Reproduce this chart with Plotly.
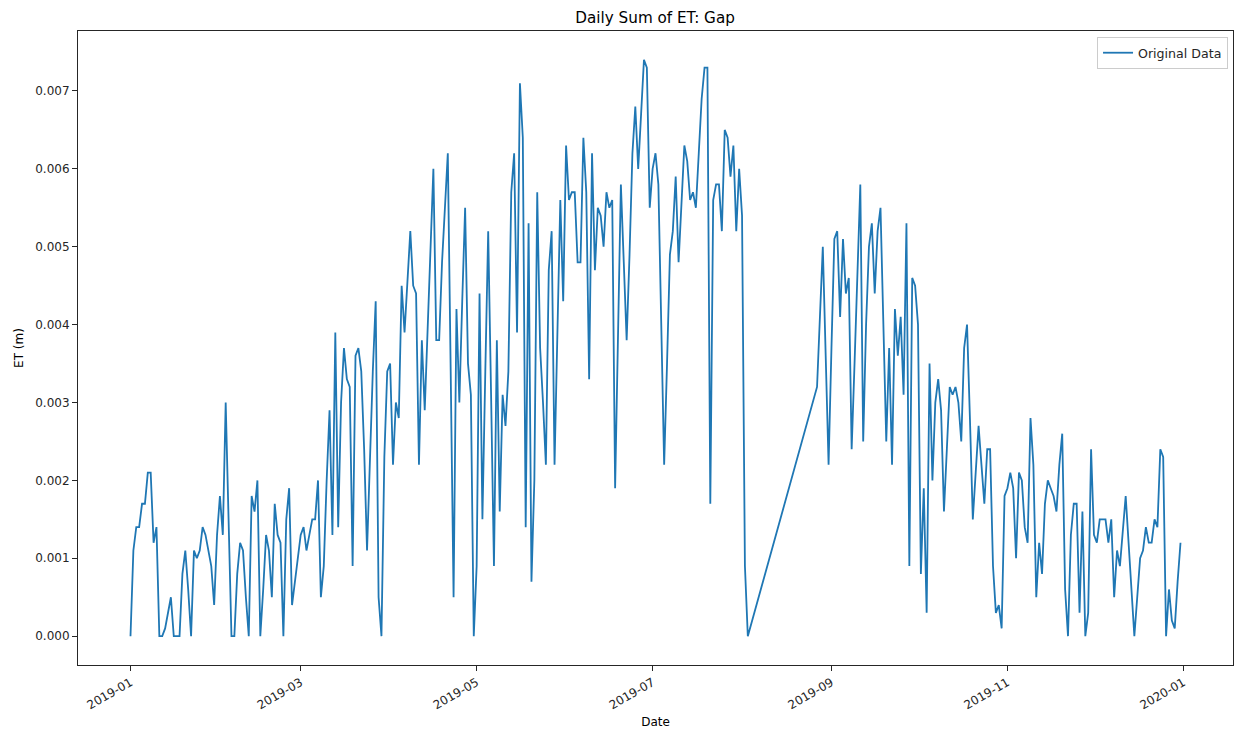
import plotly.graph_objects as go
import pandas as pd

# Daily ET values (m), grouped by month
jan_2019 = [0.0000, 0.0011, 0.0014, 0.0014, 0.0017, 0.0017, 0.0021, 0.0021, 0.0012, 0.0014,
            0.0000, 0.0000, 0.0001, 0.0003, 0.0005, 0.0000, 0.0000, 0.0000, 0.0008, 0.0011,
            0.0006, 0.0000, 0.0011, 0.0010, 0.0011, 0.0014, 0.0013, 0.0011, 0.0009, 0.0004,
            0.0013]
feb_2019 = [0.0018, 0.0013, 0.0030, 0.0015, 0.0000, 0.0000, 0.0008, 0.0012, 0.0011, 0.0005,
            0.0000, 0.0018, 0.0016, 0.0020, 0.0000, 0.0006, 0.0013, 0.0011, 0.0005, 0.0017,
            0.0013, 0.0012, 0.0000, 0.0015, 0.0019, 0.0004, 0.0007, 0.0010]
mar_2019 = [0.0013, 0.0014, 0.0011, 0.0013, 0.0015, 0.0015, 0.0020, 0.0005, 0.0009, 0.0020,
            0.0029, 0.0013, 0.0039, 0.0014, 0.0030, 0.0037, 0.0033, 0.0032, 0.0009, 0.0036,
            0.0037, 0.0034, 0.0024, 0.0011, 0.0024, 0.0034, 0.0043, 0.0005, 0.0000, 0.0023,
            0.0034]
apr_2019 = [0.0035, 0.0022, 0.0030, 0.0028, 0.0045, 0.0039, 0.0046, 0.0052, 0.0045, 0.0044,
            0.0022, 0.0038, 0.0029, 0.0040, 0.0050, 0.0060, 0.0038, 0.0038, 0.0048, 0.0055,
            0.0062, 0.0034, 0.0005, 0.0042, 0.0030, 0.0043, 0.0055, 0.0035, 0.0031, 0.0000]
may_2019 = [0.0009, 0.0044, 0.0015, 0.0034, 0.0052, 0.0031, 0.0009, 0.0038, 0.0016, 0.0031,
            0.0027, 0.0034, 0.0057, 0.0062, 0.0039, 0.0071, 0.0064, 0.0014, 0.0053, 0.0007,
            0.0020, 0.0057, 0.0037, 0.0030, 0.0022, 0.0047, 0.0052, 0.0022, 0.0040, 0.0056,
            0.0043]
jun_2019 = [0.0063, 0.0056, 0.0057, 0.0057, 0.0048, 0.0048, 0.0064, 0.0057, 0.0033, 0.0062,
            0.0047, 0.0055, 0.0054, 0.0050, 0.0057, 0.0055, 0.0056, 0.0019, 0.0038, 0.0058,
            0.0048, 0.0038, 0.0049, 0.0062, 0.0068, 0.0060, 0.0067, 0.0074, 0.0073, 0.0055]
jul_2019 = [0.0060, 0.0062, 0.0058, 0.0038, 0.0022, 0.0035, 0.0049, 0.0052, 0.0059, 0.0048,
            0.0055, 0.0063, 0.0061, 0.0056, 0.0057, 0.0055, 0.0062, 0.0069, 0.0073, 0.0073,
            0.0017, 0.0056, 0.0058, 0.0058, 0.0052, 0.0065, 0.0064, 0.0059, 0.0063, 0.0052,
            0.0060]
aug_2019_early = [0.0054, 0.0009, 0.0000]
aug_2019_late = [0.0032, 0.0041, 0.0050, 0.0036, 0.0022]
sep_2019 = [0.0037, 0.0051, 0.0052, 0.0041, 0.0051, 0.0044, 0.0046, 0.0024, 0.0035, 0.0047,
            0.0058, 0.0025, 0.0040, 0.0050, 0.0053, 0.0044, 0.0052, 0.0055, 0.0040, 0.0025,
            0.0037, 0.0022, 0.0042, 0.0036, 0.0041, 0.0031, 0.0053, 0.0009, 0.0046, 0.0045]
oct_2019 = [0.0040, 0.0008, 0.0019, 0.0003, 0.0035, 0.0020, 0.0030, 0.0033, 0.0029, 0.0016,
            0.0024, 0.0032, 0.0031, 0.0032, 0.0030, 0.0025, 0.0037, 0.0040, 0.0028, 0.0015,
            0.0021, 0.0027, 0.0022, 0.0017, 0.0024, 0.0024, 0.0009, 0.0003, 0.0004, 0.0001,
            0.0018]
nov_2019 = [0.0019, 0.0021, 0.0019, 0.0010, 0.0021, 0.0020, 0.0014, 0.0012, 0.0028, 0.0022,
            0.0005, 0.0012, 0.0008, 0.0017, 0.0020, 0.0019, 0.0018, 0.0016, 0.0022, 0.0026,
            0.0006, 0.0000, 0.0013, 0.0017, 0.0017, 0.0003, 0.0016, 0.0000, 0.0003, 0.0024]
dec_2019 = [0.0013, 0.0012, 0.0015, 0.0015, 0.0015, 0.0012, 0.0015, 0.0005, 0.0011, 0.0009,
            0.0014, 0.0018, 0.0012, 0.0006, 0.0000, 0.0005, 0.0010, 0.0011, 0.0014, 0.0012,
            0.0012, 0.0015, 0.0014, 0.0024, 0.0023, 0.0000, 0.0006, 0.0002, 0.0001, 0.0007,
            0.0012]

# first date of each run of consecutive daily values (gap in August)
segment_starts = ["2019-01-01", "2019-02-01", "2019-03-01", "2019-04-01", "2019-05-01",
                  "2019-06-01", "2019-07-01", "2019-08-01", "2019-08-27", "2019-09-01",
                  "2019-10-01", "2019-11-01", "2019-12-01"]
segment_values = [jan_2019, feb_2019, mar_2019, apr_2019, may_2019, jun_2019, jul_2019,
                  aug_2019_early, aug_2019_late, sep_2019, oct_2019, nov_2019, dec_2019]

x_tick_dates = ["2019-01-01", "2019-03-01", "2019-05-01", "2019-07-01",
                "2019-09-01", "2019-11-01", "2020-01-01"]
y_tick_values = [0.000, 0.001, 0.002, 0.003, 0.004, 0.005, 0.006, 0.007]

dates, values = [], []
for start, vals in zip(segment_starts, segment_values):
    dates.extend(pd.date_range(start, periods=len(vals), freq="D"))
    values.extend(vals)

dmin, dmax = min(dates), max(dates)
xpad = (dmax - dmin) * 0.05
vmin, vmax = min(values), max(values)
ypad = (vmax - vmin) * 0.05

FONT = "DejaVu Sans, Liberation Sans, sans-serif"

fig = go.Figure()
fig.add_trace(go.Scatter(
    x=dates, y=values, mode="lines", name="Original Data",
    line=dict(color="#1f77b4", width=1.8),
))

fig.update_layout(
    width=1237, height=732,
    margin=dict(l=78, r=4, t=31, b=67),
    paper_bgcolor="white", plot_bgcolor="white",
    font=dict(family=FONT, size=12, color="#262626"),
    title=dict(text="Daily Sum of ET: Gap", x=0.5296, xanchor="center",
               y=1 - 17.5 / 732, yanchor="middle", yref="container",
               font=dict(family=FONT, size=15.2, color="black")),
    showlegend=True,
    legend=dict(x=0.9957, y=0.9905, xanchor="right", yanchor="top",
                bgcolor="rgba(255,255,255,0.8)", bordercolor="#cccccc", borderwidth=1,
                font=dict(family=FONT, size=12.6, color="#262626"),
                itemwidth=30, tracegroupgap=0),
)

fig.update_xaxes(
    type="date",
    range=[dmin - xpad, dmax + xpad],
    tickvals=pd.to_datetime(x_tick_dates),
    tickformat="%Y-%m",
    tickangle=-30,
    ticks="outside", ticklen=5, tickwidth=1, tickcolor="#262626",
    showline=True, linecolor="#262626", linewidth=1, mirror=True,
    showgrid=False, zeroline=False,
    tickfont=dict(family=FONT, size=12, color="#262626"),
    title=dict(text="Date", font=dict(family=FONT, size=12, color="black"), standoff=6),
)
fig.update_yaxes(
    range=[vmin - ypad, vmax + ypad],
    tickvals=y_tick_values,
    tickformat=".3f",
    ticks="outside", ticklen=5, tickwidth=1, tickcolor="#262626",
    showline=True, linecolor="#262626", linewidth=1, mirror=True,
    showgrid=False, zeroline=False,
    tickfont=dict(family=FONT, size=12, color="#262626"),
    title=dict(text="ET (m)", font=dict(family=FONT, size=12, color="black"), standoff=9),
)

fig.write_html("out.html")
